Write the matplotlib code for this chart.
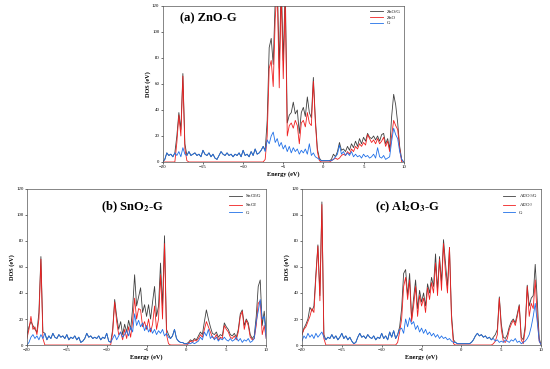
import numpy as np
import matplotlib
matplotlib.use("Agg")
import matplotlib.pyplot as plt

# energy grid, step 0.25 eV
energy = np.arange(-20, 10.001, 0.25)

# ---------------- (a) ZnO-G ----------------
a_total = [0, 2, 7, 5, 6, 4, 7, 20, 38, 25, 68, 14, 5, 8, 5, 6, 7, 5, 6, 4,
           9, 6, 5, 7, 4, 6, 3, 2, 5, 8, 6, 5, 7, 5, 6, 4, 6, 5, 7, 4,
           9, 5, 6, 4, 8, 5, 10, 6, 7, 9, 12, 9, 32, 88, 95, 75, 125, 140, 72, 140,
           78, 135, 30, 36, 38, 46, 37, 40, 22, 38, 42, 35, 50, 38, 34, 65, 33, 10, 3, 1,
           1, 1, 1, 1, 2, 6, 4, 8, 15, 9, 10, 8, 12, 9, 14, 11, 16, 12, 18, 14,
           19, 16, 22, 19, 18, 20, 17, 20, 16, 21, 22, 14, 18, 10, 35, 52, 44, 30, 12, 2,
           0]
a_oxide = [0, 0, 0, 0, 0, 0, 0, 15, 36, 20, 66, 10, 1, 0, 0, 0, 0, 0, 0, 0,
           0, 0, 0, 0, 0, 0, 0, 0, 0, 0, 0, 0, 0, 0, 0, 0, 0, 0, 0, 0,
           0, 0, 0, 0, 0, 0, 0, 0, 0, 0, 0, 2, 20, 72, 78, 58, 110, 135, 57, 130,
           64, 125, 20, 28, 30, 26, 32, 28, 14, 30, 32, 27, 38, 30, 28, 62, 30, 8, 1, 0,
           0, 0, 0, 0, 1, 2, 3, 2, 3, 5, 6, 5, 8, 6, 10, 8, 12, 10, 14, 12,
           15, 13, 21, 18, 15, 17, 14, 18, 14, 16, 19, 12, 16, 8, 20, 32, 28, 25, 10, 0,
           0]
a_graphene = [0, 2, 7, 5, 6, 4, 7, 5, 8, 4, 11, 6, 5, 8, 5, 6, 7, 5, 6, 4,
              9, 6, 5, 7, 4, 6, 3, 2, 5, 8, 6, 5, 7, 5, 6, 4, 6, 5, 7, 4,
              9, 5, 6, 4, 8, 5, 10, 6, 7, 9, 12, 8, 17, 14, 20, 23, 15, 18, 12, 15,
              10, 13, 8, 12, 7, 11, 8, 10, 6, 9, 7, 10, 6, 14, 5, 7, 4, 3, 2, 1,
              1, 1, 1, 1, 1, 2, 4, 6, 13, 6, 8, 5, 7, 5, 8, 4, 6, 4, 5, 3,
              6, 4, 5, 3, 4, 6, 3, 11, 4, 3, 5, 2, 3, 4, 16, 26, 21, 18, 8, 2,
              0]

# ---------------- (b) SnO2-G ----------------
b_total = [8, 14, 18, 15, 12, 10, 25, 68, 10, 9, 4, 7, 5, 9, 6, 5, 8, 6, 7, 5,
           8, 4, 6, 5, 7, 4, 6, 2, 3, 5, 9, 6, 7, 5, 6, 5, 7, 4, 6, 5,
           9, 3, 2, 12, 35, 22, 12, 18, 8, 16, 10, 19, 12, 28, 54, 30, 37, 44, 25, 31,
           22, 31, 20, 33, 45, 22, 30, 63, 30, 84, 12, 8, 5, 7, 12, 5, 3, 2, 2, 1,
           1, 2, 4, 3, 5, 4, 7, 10, 8, 18, 27, 20, 14, 9, 8, 10, 6, 8, 7, 17,
           14, 12, 8, 7, 9, 6, 12, 24, 27, 15, 20, 17, 8, 5, 7, 22, 45, 50, 15, 26,
           10]
b_oxide = [5, 12, 22, 12, 14, 8, 20, 66, 5, 0, 0, 0, 0, 0, 0, 0, 0, 0, 0, 0,
           0, 0, 0, 0, 0, 0, 0, 0, 0, 0, 0, 0, 0, 0, 0, 0, 0, 0, 0, 0,
           0, 0, 0, 10, 33, 18, 8, 10, 4, 12, 5, 14, 6, 18, 36, 20, 28, 27, 14, 18,
           12, 20, 10, 16, 30, 12, 20, 54, 20, 78, 8, 1, 0, 0, 0, 0, 0, 0, 0, 0,
           0, 1, 3, 2, 4, 3, 5, 8, 6, 12, 18, 14, 10, 6, 5, 8, 4, 6, 5, 15,
           12, 10, 6, 5, 7, 4, 10, 22, 26, 12, 19, 15, 6, 4, 5, 15, 32, 34, 8, 15,
           5]
b_graphene = [0, 2, 6, 8, 5, 7, 4, 8, 5, 9, 4, 7, 5, 9, 6, 5, 8, 6, 7, 5,
              8, 4, 6, 5, 7, 4, 6, 2, 3, 5, 9, 6, 7, 5, 6, 5, 7, 4, 6, 5,
              9, 3, 2, 5, 8, 4, 7, 10, 6, 8, 11, 7, 14, 10, 24, 15, 19, 14, 17, 11,
              15, 10, 13, 9, 12, 8, 11, 9, 12, 7, 9, 6, 5, 7, 12, 5, 3, 2, 2, 1,
              1, 1, 1, 2, 1, 2, 3, 6, 4, 10, 7, 12, 5, 7, 4, 6, 3, 5, 4, 6,
              4, 3, 5, 3, 4, 6, 3, 5, 2, 4, 3, 5, 2, 3, 5, 18, 26, 35, 20, 22,
              5]

# ---------------- (c) Al2O3-G ----------------
c_total = [8, 13, 16, 20, 29, 26, 30, 55, 77, 38, 110, 8, 4, 6, 5, 8, 5, 7, 4, 6,
           9, 5, 7, 4, 6, 3, 1, 2, 6, 9, 6, 7, 5, 8, 6, 5, 7, 4, 6, 5,
           9, 5, 7, 4, 10, 6, 11, 5, 8, 14, 28, 55, 58, 38, 55, 20, 36, 50, 28, 42,
           33, 40, 30, 47, 40, 52, 45, 70, 42, 68, 48, 81, 63, 45, 75, 24, 4, 2, 1, 1,
           1, 1, 1, 1, 1, 2, 4, 7, 9, 7, 8, 6, 7, 5, 6, 4, 6, 8, 12, 37,
           16, 6, 5, 8, 14, 18, 20, 17, 24, 31, 6, 4, 15, 46, 30, 36, 38, 62, 35, 5,
           0]
c_oxide = [8, 12, 14, 18, 22, 28, 25, 52, 76, 34, 108, 5, 0, 0, 0, 0, 0, 0, 0, 0,
           0, 0, 0, 0, 0, 0, 0, 0, 0, 0, 0, 0, 0, 0, 0, 0, 0, 0, 0, 0,
           0, 0, 0, 0, 0, 0, 0, 0, 2, 10, 20, 45, 52, 35, 50, 18, 30, 45, 22, 38,
           30, 36, 25, 44, 35, 48, 40, 63, 38, 66, 42, 78, 55, 40, 75, 20, 1, 0, 0, 0,
           0, 0, 0, 0, 0, 0, 0, 0, 0, 0, 0, 0, 0, 0, 0, 0, 1, 3, 8, 36,
           12, 3, 2, 5, 12, 16, 19, 15, 22, 30, 4, 1, 12, 45, 22, 32, 28, 50, 22, 3,
           0]
c_graphene = [3, 7, 5, 9, 6, 8, 5, 9, 6, 8, 10, 6, 4, 6, 5, 8, 5, 7, 4, 6,
              9, 5, 7, 4, 6, 3, 1, 2, 6, 9, 6, 7, 5, 8, 6, 5, 7, 4, 6, 5,
              9, 5, 7, 4, 10, 6, 11, 5, 8, 12, 13, 9, 20, 14, 21, 16, 18, 12, 15, 10,
              13, 9, 12, 8, 10, 7, 9, 6, 8, 5, 7, 5, 6, 4, 5, 3, 2, 2, 1, 1,
              1, 1, 1, 1, 1, 2, 4, 7, 9, 7, 8, 6, 7, 5, 6, 4, 5, 3, 4, 2,
              3, 2, 4, 3, 2, 4, 3, 5, 2, 3, 1, 2, 3, 5, 8, 14, 22, 32, 18, 3,
              0]

panels = [
    ("(a) ZnO-G", ["ZnO/G", "ZnO", "G"], [a_total, a_oxide, a_graphene],
     [0.296, 0.561, 0.438, 0.423], (0.07, 0.92)),
    (r"(b) SnO$_\mathbf{2}$-G", [r"SnO$_2$/G", r"SnO$_2$", "G"], [b_total, b_oxide, b_graphene],
     [0.049, 0.065, 0.435, 0.423], (0.31, 0.885)),
    (r"(c) Al$_\mathbf{2}$O$_\mathbf{3}$-G", [r"Al$_2$O$_3$/G", r"Al$_2$O$_3$", "G"],
     [c_total, c_oxide, c_graphene],
     [0.549, 0.065, 0.435, 0.423], (0.305, 0.885)),
]

colors = ["#404040", "#f02020", "#2070e8"]

plt.rcParams["font.family"] = "serif"
plt.rcParams["font.serif"] = ["Liberation Serif", "DejaVu Serif"]
plt.rcParams["mathtext.fontset"] = "stix"

fig = plt.figure(figsize=(5.5, 3.69), dpi=100)

for title, labels, series, rect, tpos in panels:
    ax = fig.add_axes(rect)
    for vals, lab, col in zip(series, labels, colors):
        ax.plot(energy, vals, color=col, lw=0.6, label=lab)
    ax.set_xlim(-20, 10)
    ax.set_ylim(0, 120)
    ax.set_xticks([-20, -15, -10, -5, 0, 5, 10])
    ax.set_yticks([0, 20, 40, 60, 80, 100, 120])
    ax.tick_params(labelsize=3.5, length=1.5, width=0.4, pad=1)
    for s in ax.spines.values():
        s.set_linewidth(0.5)
        s.set_color("#555555")
    ax.set_xlabel("Energy (eV)", fontsize=4.5, fontweight="bold", labelpad=1)
    ax.set_ylabel("DOS (eV)", fontsize=4.5, fontweight="bold", labelpad=1)
    ax.text(tpos[0], tpos[1], title, transform=ax.transAxes, fontsize=9,
            fontweight="bold", va="center", ha="left")
    ax.legend(loc="upper right", fontsize=3.5, frameon=False, handlelength=2.5,
              labelspacing=0.3, borderaxespad=0.3)

fig.savefig("out.png", dpi=100)
